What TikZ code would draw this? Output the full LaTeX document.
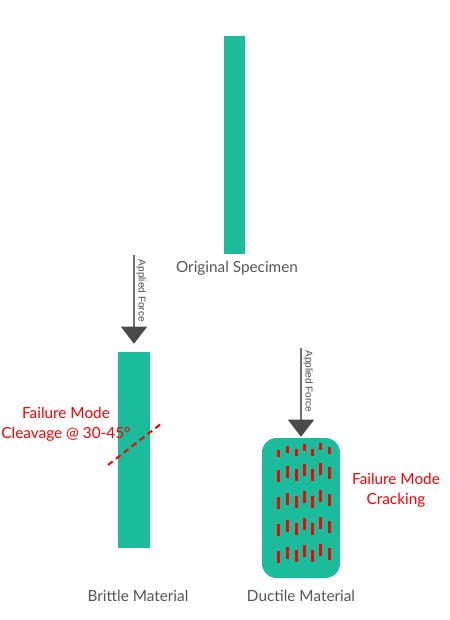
\documentclass[tikz,border=0pt]{standalone}
\usepackage{fontspec}
\setmainfont{Lato}
\newfontfamily\forcefont{Liberation Sans}
\usetikzlibrary{positioning,arrows.meta}
\definecolor{specimen}{HTML}{1ABC9C}
\definecolor{labelgrey}{HTML}{555555}
\definecolor{forcegrey}{HTML}{4A4A4A}

\begin{document}
\begin{tikzpicture}[x=0.75pt,y=-0.75pt,
  bar/.style={fill=specimen, inner sep=0pt},
  caption/.style={text=labelgrey, font=\fontsize{11.5}{14}\selectfont},
  failure/.style={text=red, align=center, font=\fontsize{11.5}{15}\selectfont},
  force/.style={draw=forcegrey!80, line width=0.8pt,
    -{Triangle[width=19.5pt,length=12.75pt,color=forcegrey]}},
  forcelabel/.style={rotate=-90, anchor=south, inner sep=1.5pt, text=forcegrey,
    font=\forcefont\fontsize{7.5}{9}\selectfont}]
\useasboundingbox (0,0) rectangle (449,620);
% specimens
\node[bar, minimum width=15.75pt, minimum height=163.5pt] (orig) at (234.5,145) {};
\node[bar, minimum width=24pt, minimum height=147pt] (brittle) at (134,450) {};
\node[bar, rounded corners=11pt, minimum width=58.5pt, minimum height=105pt] (ductile) at (301,508) {};
% captions
\node[caption] (origcap) at (237,268) {Original Specimen};
\node[caption] (brittlecap) at (138,596) {Brittle Material};
\node[caption] (ductilecap) at (301,596) {Ductile Material};
% applied forces
\coordinate (bforce) at (134,255);
\coordinate (dforce) at (301,348);
\draw[force, shorten >=6pt] (bforce) -- node[forcelabel, pos=0.37] (bforcelab) {Applied Force} (brittle);
\draw[force, shorten >=0.75pt] (dforce) -- node[forcelabel, pos=0.37] (dforcelab) {Applied Force} (ductile);
% cleavage plane
\draw[red, line width=1.5pt, dash pattern=on 4.5pt off 3pt] (108,465) -- (162,423);
\node[failure] (cleavage) at (66,424) {Failure Mode\\Cleavage @ 30-45°};
% cracks
\foreach \cx/\dy in {278/3, 287.7/-1, 296.7/2, 304.3/-3, 312.3/2, 320/-4, 329.3/0} {
  \fill[red] ({\cx-1.5},{450+\dy-3.5}) rectangle ({\cx+1.5},{450+\dy+3.5});
  \foreach \ry in {473,500,527,554}
    \fill[red] ({\cx-1.5},{\ry+\dy-6}) rectangle ({\cx+1.5},{\ry+\dy+6});
}
\node[failure] (cracking) at (396,490) {Failure Mode\\Cracking};
\end{tikzpicture}
\end{document}
